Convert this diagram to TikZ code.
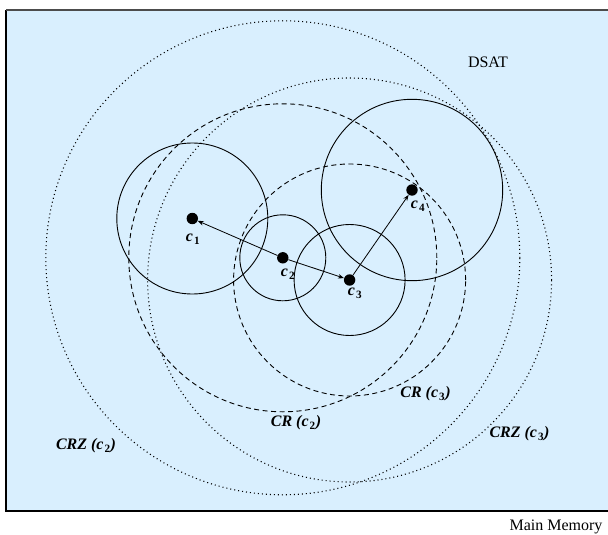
\documentclass[tikz,border=0pt]{standalone}
\usepackage{fontspec}
\setmainfont{Liberation Serif}
\usetikzlibrary{arrows.meta}
\definecolor{memblue}{RGB}{217,239,254}
\tikzset{
  dotnode/.style={circle,fill=black,inner sep=0pt,minimum size=11.4pt},
  solidring/.style={draw=black,line width=0.9pt},
  dashring/.style={draw=black,line width=0.9pt,dash pattern=on 5pt off 3.5pt},
  dotring/.style={draw=black,line width=1.1pt,dash pattern=on 1pt off 3pt},
  link/.style={draw=black,line width=0.8pt,-{Stealth[length=6pt,width=4.5pt]}},
  clabel/.style={font=\fontsize{16}{18}\selectfont\bfseries\itshape,inner sep=0pt},
  plainlabel/.style={font=\fontsize{16}{18}\selectfont,inner sep=0pt}
}
\newcommand{\cc}[1]{\textit{c}\kern1pt\textsubscript{\upshape #1}}
\begin{document}
\begin{tikzpicture}[x=1pt,y=-1pt]
\useasboundingbox (0,0) rectangle (608,535);
\fill[white] (0,0) rectangle (608,535);
\fill[memblue] (6,10) rectangle (620,511);
\draw[line width=1.2pt] (620,511) -- (6,511) -- (6,10);
\draw[line width=1.2pt,draw=black!70] (6,10) -- (620,10);

% centres
\node[dotnode] (c1) at (192.3,218.5) {};
\node[dotnode] (c2) at (282.8,257.8) {};
\node[dotnode] (c3) at (349.6,280) {};
\node[dotnode] (c4) at (412,190) {};

% CRZ rings (dotted)
\draw[dotring] (c2.center) circle [radius=237pt];
\draw[dotring] (c3.center) circle [radius=202pt];
% CR rings (dashed)
\draw[dashring] (c2.center) circle [radius=154pt];
\draw[dashring] (c3.center) circle [radius=116pt];
% cluster circles (solid)
\draw[solidring] (c1.center) circle [radius=75.5pt];
\draw[solidring] (c2.center) circle [radius=43pt];
\draw[solidring] (c3.center) circle [radius=55.5pt];
\draw[solidring] (c4.center) circle [radius=90.7pt];

% links
\draw[link] (c2) -- (c1);
\draw[link] (c2) -- (c3);
\draw[link] (c3) -- (c4);

% labels
\node[clabel] (l1) at (193,239) {\cc{1}};
\node[clabel] (l2) at (288,274) {\cc{2}};
\node[clabel] (l3) at (355,293) {\cc{3}};
\node[clabel] (l4) at (418,206) {\cc{4}};
\node[clabel] (crc3) at (425.5,394) {CR (\cc{3})};
\node[clabel] (crc2) at (296,423) {CR (\cc{2})};
\node[clabel] (crzc2) at (86,446) {CRZ (\cc{2})};
\node[clabel] (crzc3) at (519.5,434) {CRZ (\cc{3})};
\node[plainlabel] (dsat) at (488,62) {DSAT};
\node[plainlabel,anchor=base] (mm) at (556,530.5) {Main Memory};
\end{tikzpicture}
\end{document}
